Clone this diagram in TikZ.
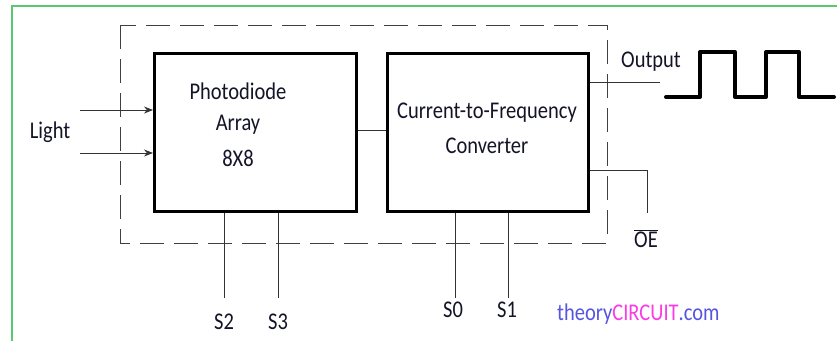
\documentclass[tikz,border=0pt]{standalone}
\usepackage{fontspec}
\setmainfont{Carlito}
\usetikzlibrary{arrows.meta}
\definecolor{frameGreen}{RGB}{90,200,110}
\definecolor{tcBlue}{RGB}{85,85,225}
\definecolor{tcMag}{RGB}{250,60,230}
\definecolor{txt}{RGB}{20,20,40}
\newcommand\tallTxt[1]{\scalebox{1}[1.17]{#1}}
\tikzset{
  block/.style={draw, line width=3pt, minimum width=202pt, minimum height=158pt, inner sep=0pt},
  wire/.style={line width=0.9pt, draw=black!80},
  lbl/.style={font=\fontsize{20.5}{24}\selectfont, text=txt, inner sep=0pt},
  wave/.style={line width=4pt, line cap=round, line join=round},
}
\begin{document}
\begin{tikzpicture}[x=1pt,y=-1pt]
\useasboundingbox (0,0) rectangle (837,340);
\fill[white] (0,0) rectangle (837,340);
% green frame
\draw[frameGreen, line width=1.2pt] (12,345) -- (12,6) -- (840,6);
% dashed enclosure
\draw[dash pattern=on 24pt off 10pt, line width=0.9pt, draw=black!75] (120,25) rectangle (607,243);
% blocks
\node[block, anchor=north west] (pd) at (153,52) {};
\node[block, anchor=north west, minimum width=201pt] (cf) at (386,52) {};
% texts in blocks
\node[lbl] (t1) at (238,91) {\tallTxt{Photodiode}};
\node[lbl] (t2) at (238,125) {\tallTxt{Array}};
\node[lbl] (t3) at (238,158) {\tallTxt{8X8}};
\node[lbl] (t4) at (487,113) {\tallTxt{Current-to-Frequency}};
\node[lbl] (t5) at (487,146) {\tallTxt{Converter}};
% link between blocks
\draw[wire] (pd.east |- 0,130) -- (cf.west |- 0,130);
% light arrows
\coordinate (l1) at (80,110);
\coordinate (l2) at (80,153);
\draw[wire, -{Stealth[length=9pt,width=7pt]}] (l1) -- (pd.west |- l1);
\draw[wire, -{Stealth[length=9pt,width=7pt]}] (l2) -- (pd.west |- l2);
\node[lbl] (light) at (50,132) {\tallTxt{Light}};
% output
\coordinate (o1) at (660,82);
\draw[wire] (cf.east |- o1) -- (o1);
\node[lbl] (outl) at (651,62) {\tallTxt{Output}};
% square wave
\draw[wave] (666,97) -- (700,97) -- (700,52) -- (735,52) -- (735,97) -- (766,97) -- (766,52) -- (799,52) -- (799,97) -- (834,97);
% OE
\coordinate (oe1) at (647,170);
\coordinate (oe2) at (647,213);
\draw[wire] (cf.east |- oe1) -- (oe1) -- (oe2);
\node[lbl] (oel) at (646,239) {\tallTxt{$\overline{\mbox{OE}}$}};
% select lines
\coordinate (s2) at (224,298);
\coordinate (s3) at (278,298);
\coordinate (s0) at (455,298);
\coordinate (s1) at (508,298);
\draw[wire] (s2 |- pd.south) -- (s2);
\draw[wire] (s3 |- pd.south) -- (s3);
\draw[wire] (s0 |- cf.south) -- (s0);
\draw[wire] (s1 |- cf.south) -- (s1);
\node[lbl] (s2l) at (224,322) {\tallTxt{S2}};
\node[lbl] (s3l) at (278,322) {\tallTxt{S3}};
\node[lbl] (s0l) at (453,310) {\tallTxt{S0}};
\node[lbl] (s1l) at (507,310) {\tallTxt{S1}};
% watermark
\node[lbl, anchor=west] (wm) at (557,314) {\tallTxt{\textcolor{tcBlue}{theory}\textcolor{tcMag}{CIRCUIT}\textcolor{tcBlue}{.com}}};
\end{tikzpicture}
\end{document}
